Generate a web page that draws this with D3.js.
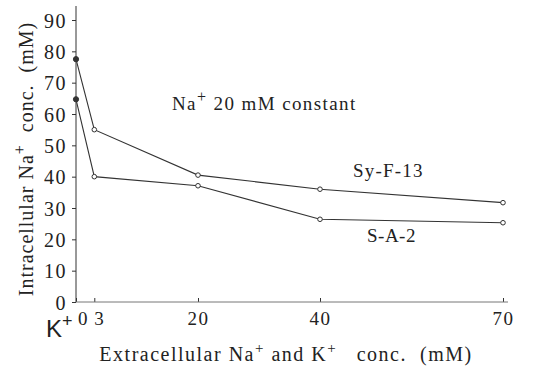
<!DOCTYPE html>
<html>
<head>
<meta charset="utf-8">
<script src="https://cdn.jsdelivr.net/npm/d3@7"></script>
<style>
body { margin: 0; background: white; }
svg text { font-family: "Liberation Serif", "DejaVu Serif", serif; fill: #222; white-space: pre; }
</style>
</head>
<body>
<svg id="chart" width="534" height="368"></svg>
<script>
// values
const concX = [0, 3, 20, 40, 70]
const syF13 = [77.5, 55, 40.5, 36, 31.7]
const sA2 = [64.7, 40, 37.1, 26.4, 25.3]
const xTicks = [0, 3, 20, 40, 70]
const yTicks = [0, 10, 20, 30, 40, 50, 60, 70, 80, 90]

const svg = d3.select("#chart")
const ink = "#333"

const x = d3.scaleLinear()
            .domain([0, 70])
            .range([76, 503])
const y = d3.scaleLinear()
            .domain([0, 90])
            .range([302, 20])

// y axis
const axeY = d3.axisLeft(y).tickValues(yTicks).tickSize(4).tickPadding(5)
const gy = svg.append("g").attr("transform", "translate(76,0)").call(axeY)
gy.select(".domain").remove()
gy.selectAll("line").attr("stroke", ink)
gy.selectAll("text").style("font-size", "20px").style("letter-spacing", "1.5px")
  .attr("dy", "0.35em").attr("fill", "#222")
svg.append("line")
   .attr("x1", 76).attr("x2", 76)
   .attr("y1", 6).attr("y2", 302)
   .attr("stroke", ink)

// x axis
const axeX = d3.axisBottom(x).tickValues(xTicks).tickSize(-4).tickPadding(10)
const gx = svg.append("g").attr("transform", "translate(0,302)").call(axeX)
gx.select(".domain").remove()
gx.selectAll("line").attr("stroke", ink)
gx.selectAll("text").style("font-size", "19px").style("letter-spacing", "1.5px").attr("fill", "#222")
gx.selectAll("text").filter(d => d == 0).attr("dx", 7)
gx.selectAll("text").filter(d => d == 3).attr("dx", 5)
svg.append("line")
   .attr("x1", 76).attr("x2", 508)
   .attr("y1", 302).attr("y2", 302)
   .attr("stroke", "#777")

// K+ marker under the axis
const k = svg.append("text")
   .attr("x", 46).attr("y", 337)
   .style("font-family", "'Liberation Sans', Arial, sans-serif")
   .style("font-size", "24px")
k.append("tspan").text("K")
k.append("tspan").text("+").attr("dy", -10).style("font-size", "18px")

const line = d3.line()
               .x((d, i) => x(concX[i]))
               .y(d => y(d))

const series = [syF13, sA2]
series.forEach(s => {
  svg.append("path")
     .datum(s)
     .attr("d", line)
     .attr("fill", "none")
     .attr("stroke", ink)
     .attr("stroke-width", 1.1)

  svg.selectAll(null)
     .data(s)
     .enter()
     .append("circle")
     .attr("cx", (d, i) => x(concX[i]))
     .attr("cy", d => y(d))
     .attr("r", (d, i) => i == 0 ? 2.6 : 2.3)
     .attr("fill", (d, i) => i == 0 ? ink : "white")
     .attr("stroke", ink)
     .attr("stroke-width", 1)
})

// annotations
const note = svg.append("text").attr("x", 172).attr("y", 110)
   .style("font-size", "19px").style("letter-spacing", "1.4px")
note.append("tspan").text("Na")
note.append("tspan").text("+").attr("dy", -8).style("font-size", "16px")
note.append("tspan").text(" 20 mM constant").attr("dy", 8)

svg.append("text").attr("x", 353).attr("y", 177)
   .style("font-size", "19px").style("letter-spacing", "1.2px").text("Sy-F-13")
svg.append("text").attr("x", 367).attr("y", 242)
   .style("font-size", "19px").style("letter-spacing", "0.5px").text("S-A-2")

// axis titles
const yt = svg.append("text")
   .attr("transform", "translate(33,159) rotate(-90)")
   .attr("text-anchor", "middle")
   .style("font-size", "20px").style("letter-spacing", "1px")
yt.append("tspan").text("Intracellular Na")
yt.append("tspan").text("+").attr("dy", -8).style("font-size", "16px")
yt.append("tspan").text("  conc.  (mM)").attr("dy", 8)

const xt = svg.append("text")
   .attr("x", 286).attr("y", 361)
   .attr("text-anchor", "middle")
   .style("font-size", "20px").style("letter-spacing", "1.5px")
xt.append("tspan").text("Extracellular Na")
xt.append("tspan").text("+").attr("dy", -8).style("font-size", "15px")
xt.append("tspan").text(" and K").attr("dy", 8)
xt.append("tspan").text("+").attr("dy", -8).style("font-size", "15px")
xt.append("tspan").text("   conc.  (mM)").attr("dy", 8)
</script>
</body>
</html>
